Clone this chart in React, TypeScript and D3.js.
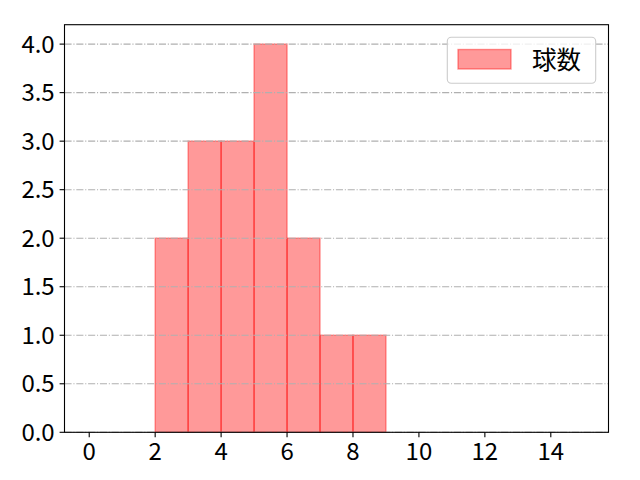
import { scaleLinear } from "d3";

// histogram bins (left edge, right edge) and counts
const binStarts = [2, 3, 4, 5, 6, 7, 8];
const binEnds = [3, 4, 5, 6, 7, 8, 9];
const counts = [2, 3, 3, 4, 2, 1, 1];
const xTicks = [0, 2, 4, 6, 8, 10, 12, 14];
const yTicks = [0, 0.5, 1, 1.5, 2, 2.5, 3, 3.5, 4];
const legendLabel = "球数";

const FONT = "'Noto Sans CJK JP', 'Noto Sans', sans-serif";

export default function App() {
  const width = 640;
  const height = 480;
  const plot = { left: 64.5, right: 608.5, top: 24.7, bottom: 432.3 };

  const x = scaleLinear().domain([-0.75, 15.75]).range([plot.left, plot.right]);
  const y = scaleLinear().domain([0, 4.2]).range([plot.bottom, plot.top]);

  const tickLen = 4.9;
  const tickPad = 4.9;

  const legend = { x: 447.3, y: 37.3, w: 148.4, h: 46 };

  return (
    <>
      <style>{`body{margin:0}`}</style>
      <svg width={width} height={height} viewBox={`0 0 ${width} ${height}`} style={{ display: "block" }}>
        <rect width={width} height={height} fill="#fff" />

        {/* bars */}
        <g>
          {counts.map((c, i) => (
            <rect
              key={`bar-${i}`}
              x={x(binStarts[i])}
              y={y(c)}
              width={x(binEnds[i]) - x(binStarts[i])}
              height={y(0) - y(c)}
              fill="rgba(255,0,0,0.4)"
              stroke="rgba(255,0,0,0.4)"
              strokeWidth={1.4}
            />
          ))}
        </g>

        {/* horizontal grid, over the bars */}
        <g>
          {yTicks.map((t) => (
            <line
              key={`grid-${t}`}
              x1={plot.left}
              x2={plot.right}
              y1={y(t)}
              y2={y(t)}
              stroke="#b0b0b0"
              strokeWidth={1.1}
              strokeDasharray="7.1 1.8 1.1 1.8"
            />
          ))}
        </g>

        {/* spines */}
        <rect
          x={plot.left}
          y={plot.top}
          width={plot.right - plot.left}
          height={plot.bottom - plot.top}
          fill="none"
          stroke="#000"
          strokeWidth={1.1}
        />

        {/* y axis */}
        <g fontFamily={FONT} fontSize={24} fill="#000">
          {yTicks.map((t) => (
            <g key={`yt-${t}`}>
              <line x1={plot.left - tickLen} x2={plot.left} y1={y(t)} y2={y(t)} stroke="#000" strokeWidth={1.1} />
              <text x={plot.left - tickLen - tickPad} y={y(t) + 8.6} textAnchor="end">
                {t.toFixed(1)}
              </text>
            </g>
          ))}
        </g>

        {/* x axis */}
        <g fontFamily={FONT} fontSize={24} fill="#000">
          {xTicks.map((t) => (
            <g key={`xt-${t}`}>
              <line x1={x(t)} x2={x(t)} y1={plot.bottom} y2={plot.bottom + tickLen} stroke="#000" strokeWidth={1.1} />
              <text x={x(t)} y={plot.bottom + 27.7} textAnchor="middle">
                {t}
              </text>
            </g>
          ))}
        </g>

        {/* legend */}
        <g>
          <rect
            x={legend.x}
            y={legend.y}
            width={legend.w}
            height={legend.h}
            rx={4}
            fill="rgba(255,255,255,0.8)"
            stroke="#cccccc"
            strokeWidth={1.1}
          />
          <rect
            x={458}
            y={49.5}
            width={53}
            height={19.5}
            fill="rgba(255,0,0,0.4)"
            stroke="rgba(255,0,0,0.4)"
            strokeWidth={1.4}
          />
          <text x={532} y={58} fontFamily={FONT} fontSize={24.5} dominantBaseline="central" fill="#000">
            {legendLabel}
          </text>
        </g>
      </svg>
    </>
  );
}
